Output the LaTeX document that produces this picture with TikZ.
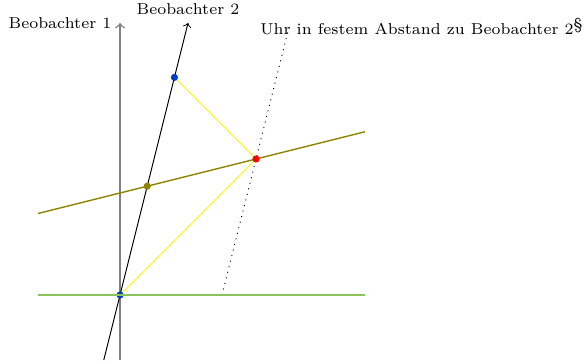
\documentclass[tikz,border=0pt]{standalone}
\usepackage{fontspec}
\definecolor{punktblau}{RGB}{0,64,190}
\definecolor{hellgruen}{RGB}{140,195,90}
\begin{document}
\begin{tikzpicture}[line join=round, font=\fontsize{6.6}{8}\selectfont]
            \useasboundingbox (-1.765,-0.956) rectangle (6.838,4.338);

            \coordinate (O) at (0,0);
            \coordinate (E1u) at (0,-0.956);
            \coordinate (E1o) at (0,4.0);
            \coordinate (E2u) at (-0.239,-0.956);
            \coordinate (E2o) at (1.0,4.0);
            \coordinate (Ku) at (1.5,0);
            \coordinate (Ko) at (2.5,4.0);

            % Weltlinien der Beobachter und der Uhr
            \draw[->, gray, semithick] (E1u)--(E1o) node[left, black] (b1) {Beobachter 1};
            \draw[->] (E2u)--(E2o) node[above] (b2) {Beobachter 2};
            \draw[dotted] (Ku)--(Ko);
            \node[anchor=west] (uhr) at (1.94,3.95) {Uhr in festem Abstand zu Beobachter 2\raisebox{0.7ex}{\S}};

            % Lichtsignal hin und zurück
            \coordinate (R) at (2,2);
            \coordinate (Z) at (0.8,3.2);
            \draw[yellow] (O)--(R)--(Z);

            % Gleichzeitigkeit für Beobachter 2
            \coordinate (Sl) at (-1.206,1.1985);
            \coordinate (Sr) at (3.603,2.4008);
            \coordinate (S) at (0.4,1.6);
            \draw[olive, semithick] (Sl)--(Sr);

            \fill[punktblau] (O) circle (1.5pt);
            \fill[punktblau] (Z) circle (1.5pt);
            \fill[olive] (S) circle (1.5pt);
            \fill[red] (R) circle (1.5pt);

            % Gleichzeitigkeit für Beobachter 1
            \coordinate (Ul) at (-1.206,0);
            \coordinate (Ur) at (3.603,0);
            \draw[hellgruen, semithick] (Ul)--(Ur);
        \end{tikzpicture}
\end{document}
